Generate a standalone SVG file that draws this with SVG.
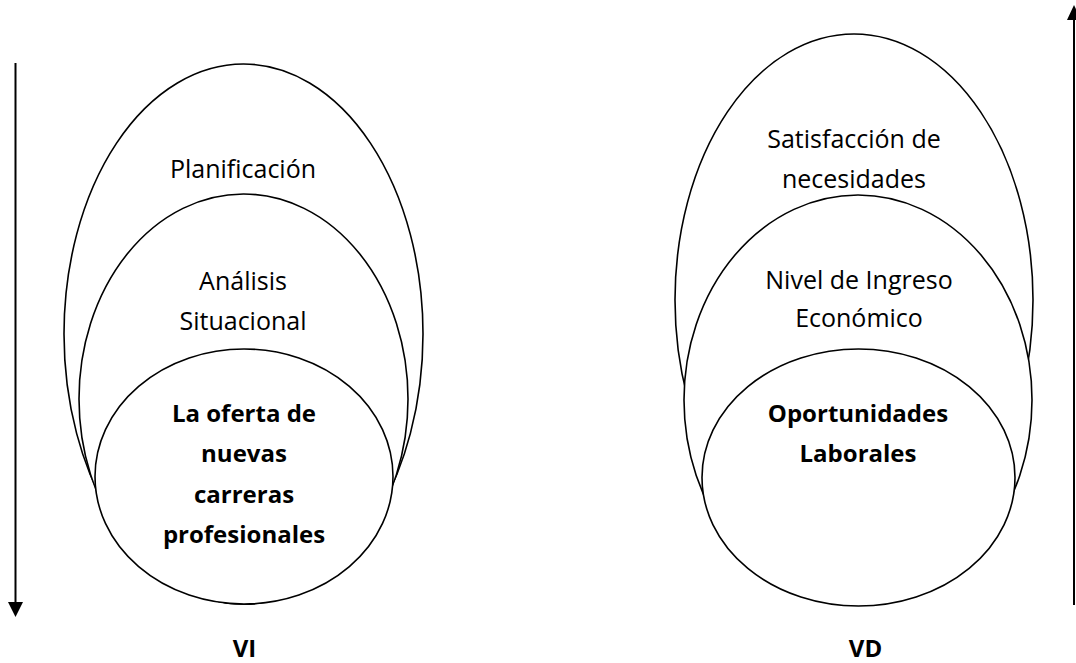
<svg xmlns="http://www.w3.org/2000/svg" width="1076" height="663" viewBox="0 0 1076 663">
<style>
.sh{fill:#fff;stroke:#000;stroke-width:1.6}
.t{font-family:"Open Sans","Noto Sans","DejaVu Sans",sans-serif;font-size:25px;fill:#000;text-anchor:middle}
.b{font-weight:bold;font-size:24px}
.ln{stroke:#000;stroke-width:2;fill:none}
</style>
<rect width="1076" height="663" fill="#fff"/>
<g id="connectors">
<line class="ln" x1="15.5" y1="63" x2="15.5" y2="603"/>
<polygon points="8,602 23,602 15.5,617" fill="#000"/>
<line class="ln" x1="1074" y1="18" x2="1074" y2="605"/>
<polygon points="1067,20 1081,20 1074,5" fill="#000"/>
</g>
<g id="vi-planificacion">
<ellipse class="sh" cx="243.5" cy="334" rx="179.5" ry="270"/>
<text class="t" x="243" y="178">Planificación</text>
</g>
<g id="vi-analisis">
<ellipse class="sh" cx="243.5" cy="399" rx="164.5" ry="205"/>
<text class="t" x="243" y="290">Análisis</text>
<text class="t" x="243" y="330">Situacional</text>
</g>
<g id="vi-oferta">
<ellipse class="sh" cx="244" cy="476.5" rx="149" ry="127.5"/>
<text class="t b" x="244" y="422">La oferta de</text>
<text class="t b" x="244" y="462">nuevas</text>
<text class="t b" x="244" y="503">carreras</text>
<text class="t b" x="244" y="543">profesionales</text>
</g>
<g id="vd-satisfaccion">
<ellipse class="sh" cx="854" cy="300" rx="179" ry="266"/>
<text class="t" x="854" y="148">Satisfacción de</text>
<text class="t" x="854" y="188">necesidades</text>
</g>
<g id="vd-ingreso">
<ellipse class="sh" cx="858" cy="400" rx="174" ry="205"/>
<text class="t" x="859" y="289">Nivel de Ingreso</text>
<text class="t" x="859" y="327">Económico</text>
</g>
<g id="vd-oportunidades">
<ellipse class="sh" cx="858.5" cy="477.5" rx="156.5" ry="128.5"/>
<text class="t b" x="858" y="422">Oportunidades</text>
<text class="t b" x="858" y="462">Laborales</text>
</g>
<g id="labels">
<text class="t b" x="244.5" y="657">VI</text>
<text class="t b" x="865.5" y="657">VD</text>
</g>
</svg>
